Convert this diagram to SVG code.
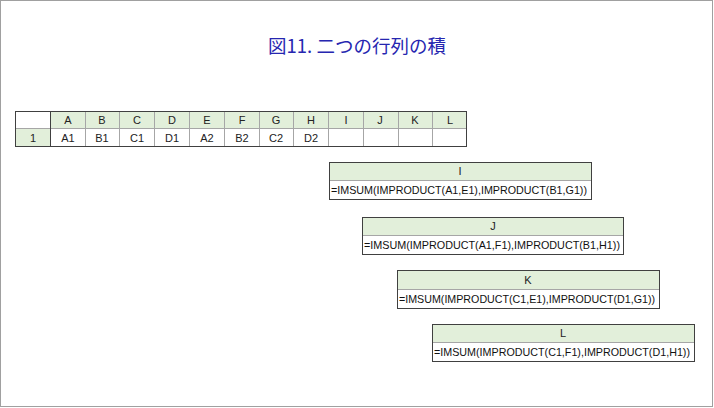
<svg xmlns="http://www.w3.org/2000/svg" width="714" height="408" viewBox="0 0 714 408">
<style>
.hdr{fill:#E2EFDA}
.cell{fill:#ffffff}
.grid{stroke:#a6a6a6;stroke-width:1;fill:none}
.outer{stroke:#404040;stroke-width:1;fill:none}
.t{font-family:"Liberation Sans","Noto Sans CJK JP",sans-serif;font-size:11px;fill:#222;text-anchor:middle}
.f{font-family:"Liberation Sans","Noto Sans CJK JP",sans-serif;font-size:11.5px;fill:#111}
.title{font-family:"Noto Sans CJK JP","Liberation Sans",sans-serif;font-size:18.5px;fill:#2626B0;text-anchor:middle}
</style>
<rect x="0.5" y="0.5" width="712" height="406" fill="#ffffff" stroke="#a0a0a0" stroke-width="1"/>
<text class="title" x="357" y="53">図11. 二つの行列の積</text>

<g id="sheet">
  <rect x="15.5" y="111.5" width="35" height="17" class="cell"/>
  <rect x="50.5" y="111.5" width="416" height="17" class="hdr"/>
  <rect x="15.5" y="128.5" width="35" height="18" class="hdr"/>
  <rect x="50.5" y="128.5" width="416" height="18" class="cell"/>
  <path class="grid" d="M15.5 128.5H466.5 M85.5 111.5V146.5 M119.5 111.5V146.5 M154.5 111.5V146.5 M189.5 111.5V146.5 M224.5 111.5V146.5 M259.5 111.5V146.5 M293.5 111.5V146.5 M328.5 111.5V146.5 M363.5 111.5V146.5 M398.5 111.5V146.5 M432.5 111.5V146.5"/>
  <path class="outer" d="M50.5 111.5V146.5"/>
  <rect x="15.5" y="111.5" width="451" height="35" class="outer"/>
  <g class="t">
    <text x="68" y="124" class="t">A</text>
    <text x="102" y="124" class="t">B</text>
    <text x="137" y="124" class="t">C</text>
    <text x="172" y="124" class="t">D</text>
    <text x="207" y="124" class="t">E</text>
    <text x="242" y="124" class="t">F</text>
    <text x="276" y="124" class="t">G</text>
    <text x="311" y="124" class="t">H</text>
    <text x="346" y="124" class="t">I</text>
    <text x="380" y="124" class="t">J</text>
    <text x="415" y="124" class="t">K</text>
    <text x="450" y="124" class="t">L</text>
    <text x="33" y="142" class="t">1</text>
    <text x="68" y="142" class="t">A1</text>
    <text x="102" y="142" class="t">B1</text>
    <text x="137" y="142" class="t">C1</text>
    <text x="172" y="142" class="t">D1</text>
    <text x="207" y="142" class="t">A2</text>
    <text x="242" y="142" class="t">B2</text>
    <text x="276" y="142" class="t">C2</text>
    <text x="311" y="142" class="t">D2</text>
  </g>
</g>

<g id="box-I">
  <rect x="329.5" y="162.5" width="262" height="18" class="hdr"/>
  <rect x="329.5" y="180.5" width="262" height="19" class="cell"/>
  <path class="grid" d="M329.5 180.5H591.5"/>
  <rect x="329.5" y="162.5" width="262" height="37" class="outer"/>
  <text class="t" x="460" y="175">I</text>
  <text class="f" x="331" y="194" textLength="256" lengthAdjust="spacingAndGlyphs">=IMSUM(IMPRODUCT(A1,E1),IMPRODUCT(B1,G1))</text>
</g>

<g id="box-J">
  <rect x="362.5" y="217.5" width="261" height="18" class="hdr"/>
  <rect x="362.5" y="235.5" width="261" height="19" class="cell"/>
  <path class="grid" d="M362.5 235.5H623.5"/>
  <rect x="362.5" y="217.5" width="261" height="37" class="outer"/>
  <text class="t" x="493" y="230">J</text>
  <text class="f" x="364" y="249" textLength="256" lengthAdjust="spacingAndGlyphs">=IMSUM(IMPRODUCT(A1,F1),IMPRODUCT(B1,H1))</text>
</g>

<g id="box-K">
  <rect x="397.5" y="270.5" width="262" height="19" class="hdr"/>
  <rect x="397.5" y="289.5" width="262" height="19" class="cell"/>
  <path class="grid" d="M397.5 289.5H659.5"/>
  <rect x="397.5" y="270.5" width="262" height="38" class="outer"/>
  <text class="t" x="528" y="284">K</text>
  <text class="f" x="399" y="303" textLength="256" lengthAdjust="spacingAndGlyphs">=IMSUM(IMPRODUCT(C1,E1),IMPRODUCT(D1,G1))</text>
</g>

<g id="box-L">
  <rect x="432.5" y="324.5" width="262" height="18" class="hdr"/>
  <rect x="432.5" y="342.5" width="262" height="19" class="cell"/>
  <path class="grid" d="M432.5 342.5H694.5"/>
  <rect x="432.5" y="324.5" width="262" height="37" class="outer"/>
  <text class="t" x="563" y="337">L</text>
  <text class="f" x="434" y="356" textLength="256" lengthAdjust="spacingAndGlyphs">=IMSUM(IMPRODUCT(C1,F1),IMPRODUCT(D1,H1))</text>
</g>

<g id="connectors"></g>
</svg>
